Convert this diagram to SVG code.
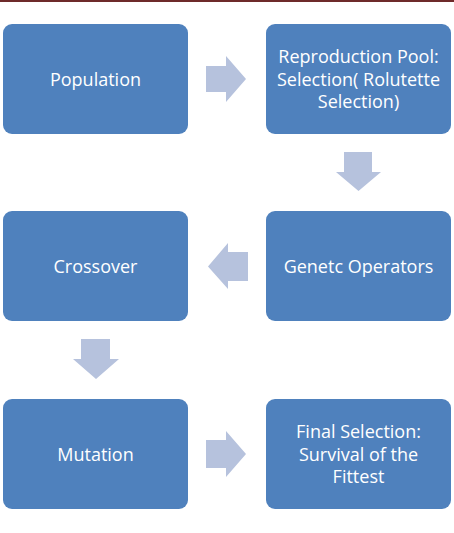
<svg xmlns="http://www.w3.org/2000/svg" width="454" height="533" viewBox="0 0 454 533">
<style>
.box{fill:#4F81BD;}
.arr{fill:#B6C2DD;}
.t{font-family:"Open Sans","Liberation Sans",sans-serif;font-size:18px;fill:#FFFFFF;text-anchor:middle;}
</style>
<rect x="0" y="0" width="454" height="533" fill="#FFFFFF"/>
<rect x="0" y="0" width="454" height="2" fill="#6E2A2A"/>
<g id="connectors">
<polygon class="arr" points="206,66 226,66 226,56 246,79 226,102 226,92 206,92"/>
<polygon class="arr" points="344,152 372,152 372,172 381,172 358.5,191 336,172 344,172"/>
<polygon class="arr" points="248,252 228,252 228,243 208,266.5 228,289 228,281 248,281"/>
<polygon class="arr" points="81,339 110,339 110,359 119,359 96,379 73,359 81,359"/>
<polygon class="arr" points="206,440 226,440 226,431 246,454 226,477 226,468 206,468"/>
</g>
<g id="population">
<rect class="box" x="3" y="24" width="185" height="110" rx="9"/>
<text class="t" x="95.5" y="85.5">Population</text>
</g>
<g id="reproduction">
<rect class="box" x="266" y="24" width="185" height="110" rx="9"/>
<text class="t" x="358.5" y="62.5">Reproduction Pool:</text>
<text class="t" x="358.5" y="85.5">Selection( Rolutette</text>
<text class="t" x="358.5" y="108">Selection)</text>
</g>
<g id="genetic">
<rect class="box" x="266" y="211" width="185" height="110" rx="9"/>
<text class="t" x="358.5" y="272.5">Genetc Operators</text>
</g>
<g id="crossover">
<rect class="box" x="3" y="211" width="185" height="110" rx="9"/>
<text class="t" x="95.5" y="272.5">Crossover</text>
</g>
<g id="mutation">
<rect class="box" x="3" y="399" width="185" height="110" rx="9"/>
<text class="t" x="95.5" y="460.5">Mutation</text>
</g>
<g id="final">
<rect class="box" x="266" y="399" width="185" height="110" rx="9"/>
<text class="t" x="358.5" y="437.5">Final Selection:</text>
<text class="t" x="358.5" y="460.5">Survival of the</text>
<text class="t" x="358.5" y="483">Fittest</text>
</g>
</svg>
